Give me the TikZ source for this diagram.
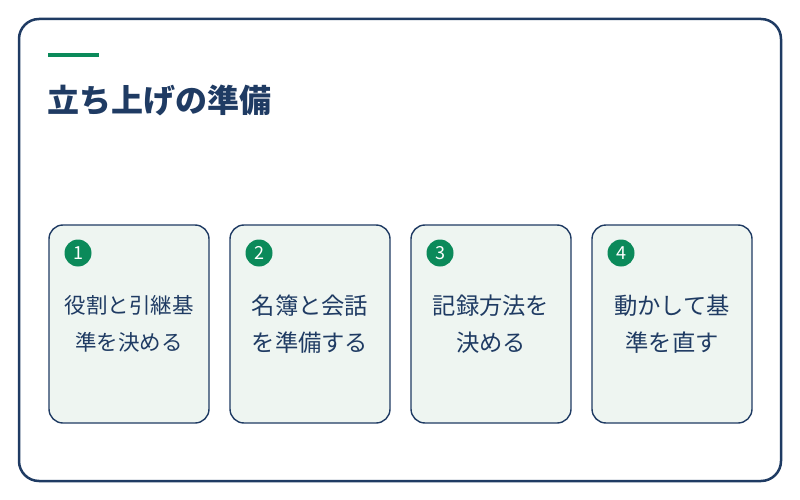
\documentclass[tikz,border=0pt]{standalone}
\usepackage{fontspec}
\newfontfamily\cjk{Noto Sans CJK JP}
\definecolor{navy}{HTML}{1F3B63}
\definecolor{accent}{HTML}{0B8A5A}
\definecolor{cardfill}{HTML}{EEF5F1}
\tikzset{
  card/.style={draw=navy, line width=1.4pt, fill=cardfill, rounded corners=14pt, minimum width=160pt, minimum height=198pt, inner sep=0pt},
  badge/.style={circle, fill=accent, minimum size=27pt, inner sep=0pt, text=white, font=\cjk\fontsize{18}{18}\selectfont},
  cardtext/.style={text=navy, align=center, font=\cjk\fontsize{#1}{37}\selectfont},
}
\begin{document}
\begin{tikzpicture}[x=1pt,y=-1pt]
\useasboundingbox (0,0) rectangle (800,500);
\draw[navy, line width=2.5pt, rounded corners=20pt, fill=white] (19,19) rectangle (781,481);
\draw[accent, line width=4pt] (48,55) -- (99,55);
\node[anchor=base west, inner sep=0pt, text=navy, font=\cjk\bfseries\fontsize{32}{32}\selectfont] (title) at (47,113) {立ち上げの準備};
\foreach \i/\s/\t [count=\k from 0] in {1/21.5/{役割と引継基\\準を決める}, 2/23.3/{名簿と会話\\を準備する}, 3/23.3/{記録方法を\\決める}, 4/23.3/{動かして基\\準を直す}} {
  \node[card] (c\i) at ({129+181*\k},324) {};
  \node[badge] (b\i) at ({78+181*\k},253) {\i};
  \node[cardtext=\s] (t\i) at ({129+181*\k},324) {\t};
}
\end{tikzpicture}
\end{document}
